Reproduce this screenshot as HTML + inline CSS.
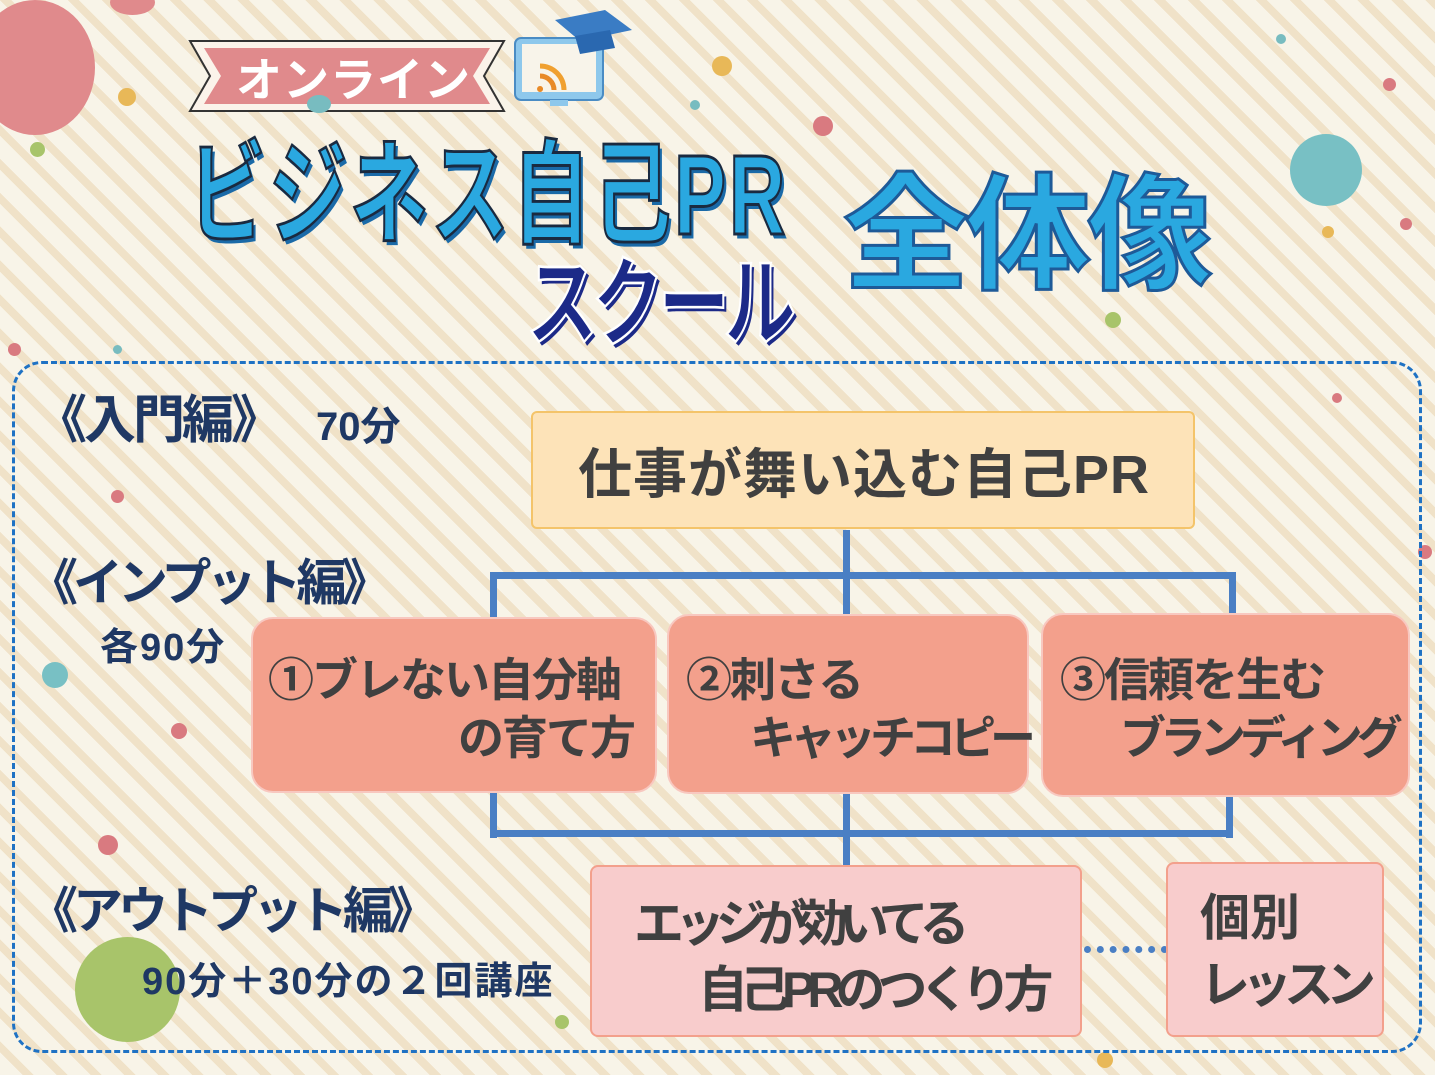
<!DOCTYPE html>
<html><head><meta charset="utf-8"><style>
*{margin:0;padding:0;box-sizing:border-box}
body{width:1435px;height:1075px;overflow:hidden;position:relative;font-family:"Liberation Sans","Noto Sans CJK JP",sans-serif;font-weight:bold;
background:#f8f4e8 repeating-linear-gradient(45deg,#f8f4e8 0 16px,#f0e2c8 16px 24px);}
.a{position:absolute;white-space:nowrap}
.dot{position:absolute;border-radius:50%}
.box{position:absolute;border-radius:22px}
.lbl{color:#1f3864}
.ln{position:absolute;background:#4a7fc4}
</style></head><body>
<!-- dots -->
<div class="dot" style="left:-25px;top:0;width:120px;height:135px;background:#e08a8c"></div>
<div class="dot" style="left:110px;top:-10px;width:45px;height:25px;background:#e08a8c"></div>
<div class="dot" style="left:118px;top:88px;width:18px;height:18px;background:#e8b858"></div>
<div class="dot" style="left:30px;top:142px;width:15px;height:15px;background:#a8c46a"></div>
<div class="dot" style="left:712px;top:56px;width:20px;height:20px;background:#e8b858"></div>
<div class="dot" style="left:813px;top:116px;width:20px;height:20px;background:#d97a80"></div>
<div class="dot" style="left:690px;top:100px;width:10px;height:10px;background:#78bcc0"></div>
<div class="dot" style="left:1290px;top:134px;width:72px;height:72px;background:#78c0c4"></div>
<div class="dot" style="left:1383px;top:78px;width:13px;height:13px;background:#d97a80"></div>
<div class="dot" style="left:1276px;top:34px;width:10px;height:10px;background:#78bcc0"></div>
<div class="dot" style="left:1322px;top:226px;width:12px;height:12px;background:#e8b858"></div>
<div class="dot" style="left:1400px;top:218px;width:12px;height:12px;background:#d97a80"></div>
<div class="dot" style="left:1105px;top:312px;width:16px;height:16px;background:#a8c46a"></div>
<div class="dot" style="left:8px;top:343px;width:13px;height:13px;background:#d97a80"></div>
<div class="dot" style="left:113px;top:345px;width:9px;height:9px;background:#78bcc0"></div>
<div class="dot" style="left:111px;top:490px;width:13px;height:13px;background:#d97a80"></div>
<div class="dot" style="left:1332px;top:393px;width:10px;height:10px;background:#d97a80"></div>
<div class="dot" style="left:42px;top:662px;width:26px;height:26px;background:#78c0c4"></div>
<div class="dot" style="left:171px;top:723px;width:16px;height:16px;background:#d97a80"></div>
<div class="dot" style="left:98px;top:835px;width:20px;height:20px;background:#d97a80"></div>
<div class="dot" style="left:75px;top:937px;width:105px;height:105px;background:#a8c46a"></div>
<div class="dot" style="left:555px;top:1015px;width:14px;height:14px;background:#a8c46a"></div>
<div class="dot" style="left:1097px;top:1052px;width:16px;height:16px;background:#e8b858"></div>
<div class="dot" style="left:1418px;top:545px;width:14px;height:14px;background:#d97a80"></div>

<!-- ribbon -->
<svg class="a" style="left:188px;top:38px" width="320" height="76">
<polygon points="2,3 316,3 296,38 316,73 2,73 22,38" fill="#fbf3ea" stroke="#333" stroke-width="2"/>
<polygon points="16,10 302,10 285,38 302,66 16,66 33,38" fill="#e08a8c"/>
</svg>
<div class="dot" style="left:307px;top:95px;width:24px;height:18px;background:#78bcc0"></div>
<div class="a" style="left:236px;top:44px;font-size:46px;color:#fff;letter-spacing:1px">オンライン</div>
<!-- monitor icon -->
<svg class="a" style="left:510px;top:8px" width="125" height="100">
<rect x="5" y="30" width="88" height="62" rx="6" fill="#8ec8ec" stroke="#4a8cc4" stroke-width="2"/>
<rect x="12" y="36" width="74" height="48" fill="#f8f4ea"/>
<rect x="40" y="92" width="18" height="6" fill="#8ec8ec"/>
<path d="M30 78 a3 3 0 1 0 0.1 0" fill="#e88a28"/>
<path d="M30 68 a14 14 0 0 1 14 14" stroke="#e88a28" stroke-width="5" fill="none"/>
<path d="M30 58 a24 24 0 0 1 24 24" stroke="#f0a030" stroke-width="5" fill="none"/>
<polygon points="45,12 95,2 122,22 70,33" fill="#3a7cc4"/>
<polygon points="65,28 100,22 105,40 70,46" fill="#2a68b0"/>
</svg>

<!-- titles -->
<div class="a" style="left:188px;top:105px;font-size:78px;color:#2aa8e0;transform:scaleY(1.45);transform-origin:top left;-webkit-text-stroke:2px #1a2a40;letter-spacing:3px;text-shadow:3px 3px 0 #1a6aa8">ビジネス自己PR</div>
<div class="a" style="left:526px;top:224px;font-size:72px;color:#1c2a88;transform:scaleY(1.35);transform-origin:top left;-webkit-text-stroke:2px #fff;letter-spacing:-6px;text-shadow:3px 3px 0 #1c2a88">スクール</div>
<div class="a" style="left:843px;top:170px;font-size:126px;color:#2aa8e0;-webkit-text-stroke:3px #1e5a98;letter-spacing:-4px;line-height:1.05">全体像</div>

<!-- dashed frame -->
<div class="a" style="left:12px;top:361px;width:1410px;height:692px;border:3px dashed #1f72c4;border-radius:30px"></div>

<!-- labels -->
<div class="a lbl" style="left:35px;top:378px;font-size:52px;letter-spacing:-3px">《入門編》</div>
<div class="a lbl" style="left:316px;top:394px;font-size:40px">70分</div>
<div class="a lbl" style="left:28px;top:543px;font-size:50px;letter-spacing:-5px">《インプット編》</div>
<div class="a lbl" style="left:100px;top:616px;font-size:38px;letter-spacing:2px">各90分</div>
<div class="a lbl" style="left:28px;top:871px;font-size:50px;letter-spacing:-5px">《アウトプット編》</div>
<div class="a lbl" style="left:142px;top:950px;font-size:38px;letter-spacing:2px">90分＋30分の２回講座</div>

<!-- connectors -->
<div class="ln" style="left:843px;top:530px;width:7px;height:90px"></div>
<div class="ln" style="left:490px;top:572px;width:746px;height:7px"></div>
<div class="ln" style="left:490px;top:572px;width:7px;height:50px"></div>
<div class="ln" style="left:1229px;top:572px;width:7px;height:50px"></div>
<div class="ln" style="left:490px;top:790px;width:7px;height:48px"></div>
<div class="ln" style="left:1226px;top:790px;width:7px;height:48px"></div>
<div class="ln" style="left:490px;top:830px;width:743px;height:7px"></div>
<div class="ln" style="left:843px;top:790px;width:7px;height:75px"></div>
<div class="a" style="left:1084px;top:946px;width:84px;border-top:7px dotted #4a7fc4"></div>

<!-- boxes -->
<div class="box" style="left:531px;top:411px;width:664px;height:118px;border-radius:6px;background:#fde3b8;border:2px solid #f4c46a"></div>
<div class="a" style="left:578px;top:430px;font-size:54px;color:#404040;letter-spacing:1px">仕事が舞い込む自己PR</div>

<div class="box" style="left:251px;top:617px;width:406px;height:176px;background:#f3a08c;border:2px solid #f8c8c0"></div>
<div class="a" style="left:268px;top:644px;font-size:46px;color:#404040;letter-spacing:-2px">①ブレない自分軸</div>
<div class="a" style="left:458px;top:702px;font-size:46px;color:#404040;letter-spacing:-2px">の育て方</div>

<div class="box" style="left:667px;top:614px;width:362px;height:180px;background:#f3a08c;border:2px solid #f8c8c0"></div>
<div class="a" style="left:686px;top:644px;font-size:46px;color:#404040;letter-spacing:-2px">②刺さる</div>
<div class="a" style="left:750px;top:702px;font-size:46px;color:#404040;letter-spacing:-6px">キャッチコピー</div>

<div class="box" style="left:1041px;top:613px;width:369px;height:184px;background:#f3a08c;border:2px solid #f8c8c0"></div>
<div class="a" style="left:1060px;top:644px;font-size:46px;color:#404040;letter-spacing:-2px">③信頼を生む</div>
<div class="a" style="left:1120px;top:702px;font-size:46px;color:#404040;letter-spacing:-6px">ブランディング</div>

<div class="box" style="left:590px;top:865px;width:492px;height:172px;border-radius:8px;background:#f8cccc;border:2px solid #f3a08c"></div>
<div class="a" style="left:634px;top:884px;font-size:50px;color:#404040;letter-spacing:-9px">エッジが効いてる</div>
<div class="a" style="left:698px;top:950px;font-size:50px;color:#404040;letter-spacing:-8px">自己PRのつくり方</div>

<div class="box" style="left:1166px;top:862px;width:218px;height:175px;border-radius:8px;background:#f8cccc;border:2px solid #f3a08c"></div>
<div class="a" style="left:1200px;top:878px;font-size:50px;color:#404040">個別</div>
<div class="a" style="left:1200px;top:945px;font-size:50px;color:#404040;letter-spacing:-8px">レッスン</div>
</body></html>
